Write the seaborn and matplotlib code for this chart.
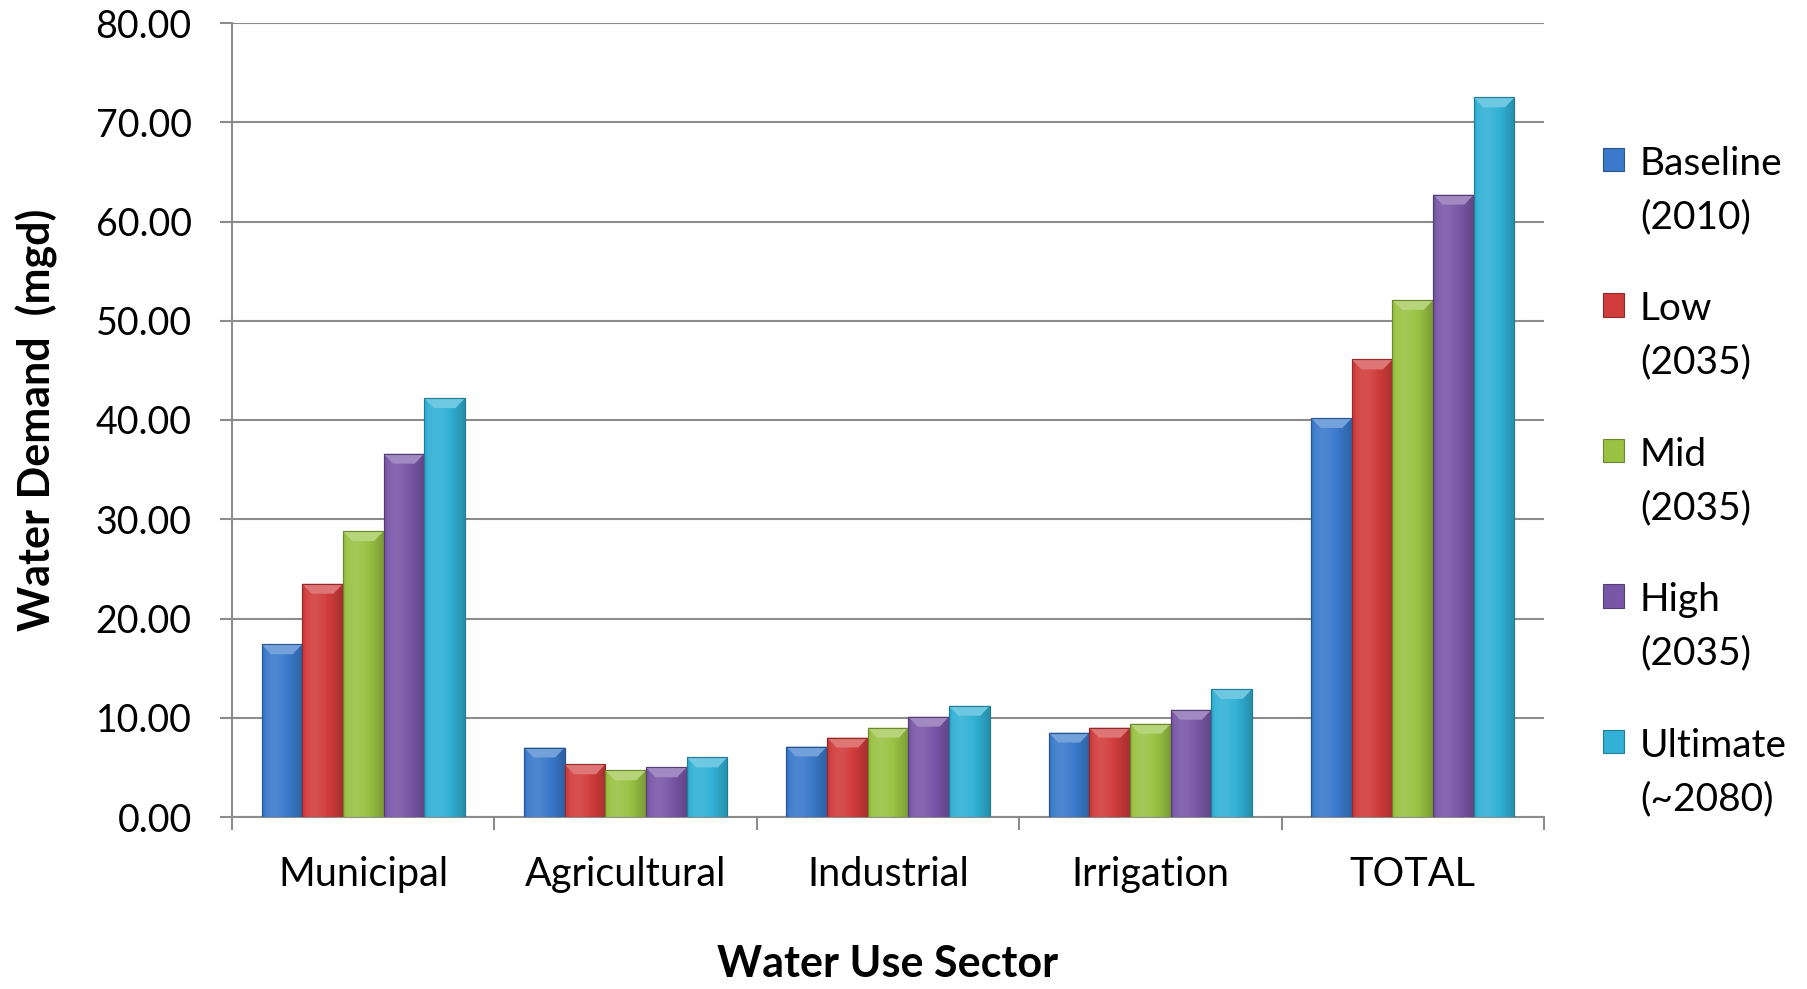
import numpy as np
import pandas as pd
import matplotlib
matplotlib.use("Agg")
import matplotlib.pyplot as plt
import seaborn as sns
from matplotlib.colors import to_rgb
from matplotlib.patches import Polygon, Rectangle
from matplotlib.legend_handler import HandlerPatch
from matplotlib.ticker import FormatStrFormatter, FixedLocator

# ---- data -------------------------------------------------------------
sectors = ["Municipal", "Agricultural", "Industrial", "Irrigation", "TOTAL"]
scenarios = ["Baseline\n(2010)", "Low\n(2035)", "Mid\n(2035)", "High\n(2035)", "Ultimate\n(~2080)"]
baseline_2010 = [17.4, 7.0, 7.1, 8.5, 40.2]
low_2035 = [23.5, 5.3, 8.0, 9.0, 46.1]
mid_2035 = [28.8, 4.7, 9.0, 9.4, 52.1]
high_2035 = [36.6, 5.0, 10.1, 10.8, 62.7]
ultimate_2080 = [42.2, 6.0, 11.2, 12.9, 72.5]
y_ticks = [0, 10, 20, 30, 40, 50, 60, 70, 80]
colors = ["#3A79CB", "#D13C3C", "#99C243", "#7957A7", "#31B1D5"]

series = [baseline_2010, low_2035, mid_2035, high_2035, ultimate_2080]
df = pd.DataFrame(
    [(sec, scen, val)
     for scen, vals in zip(scenarios, series)
     for sec, val in zip(sectors, vals)],
    columns=["sector", "scenario", "demand"],
)

# ---- style ------------------------------------------------------------
sns.set_theme(style="white")
plt.rcParams["font.family"] = ["Lato", "DejaVu Sans"]
GRID = "#8C8C8C"

fig = plt.figure(figsize=(18.07, 9.89), dpi=100)
fig.patch.set_facecolor("white")
W, H = 1807, 989
x0, x1, y0, y1 = 232, 1544, 23, 817
ax = fig.add_axes([x0 / W, 1 - y1 / H, (x1 - x0) / W, (y1 - y0) / H])

sns.barplot(data=df, x="sector", y="demand", hue="scenario",
            order=sectors, hue_order=scenarios, palette=colors,
            width=0.775, saturation=1, legend=False, ax=ax, zorder=3)


def lighten(c, a):
    c = np.array(to_rgb(c))
    return c + (1 - c) * a


def darken(c, a):
    return np.array(to_rgb(c)) * (1 - a)


# horizontal shading profile to give each bar a rounded, bevelled look
t = np.linspace(0, 1, 64)
prof = (0.10 * np.exp(-((t - 0.3) / 0.25) ** 2)
        - 0.20 * np.clip((t - 0.55) / 0.45, 0, 1) ** 1.4
        - 0.08 * np.exp(-(t / 0.06) ** 2))

bars = [p for p in ax.patches if p.get_height() > 0]
for p in bars:
    base = np.array(p.get_facecolor()[:3])
    bx, bw, bh = p.get_x(), p.get_width(), p.get_height()
    img = np.empty((2, len(t), 3))
    for i, f in enumerate(prof):
        img[:, i] = lighten(base, f) if f >= 0 else darken(base, -f)
    im = ax.imshow(img, extent=[bx, bx + bw, 0, bh], aspect="auto",
                   origin="lower", zorder=3.5, interpolation="bilinear")
    im.set_clip_path(p)
    p.set_edgecolor(darken(base, 0.25))
    p.set_linewidth(0.8)
    # top bevel facet
    dy = 1.0
    dx = 0.036
    top = Polygon([(bx, bh), (bx + bw, bh), (bx + bw - dx, bh - dy), (bx + dx, bh - dy)],
                  closed=True, facecolor=lighten(base, 0.30), edgecolor="none", zorder=3.6)
    ax.add_patch(top)
    ax.add_patch(Rectangle((bx, 0), bw, bh, facecolor="none",
                           edgecolor=darken(base, 0.3), lw=0.8, zorder=3.7))

# ---- axes -------------------------------------------------------------
ax.set_xlim(-0.5, len(sectors) - 0.5)
ax.set_ylim(0, 80)
ax.set_yticks(y_ticks)
ax.yaxis.set_major_formatter(FormatStrFormatter("%.2f"))
ax.grid(axis="y", color=GRID, lw=1.5, zorder=0)
ax.set_axisbelow(True)

for side in ("top", "right"):
    ax.spines[side].set_visible(False)
for side in ("left", "bottom"):
    ax.spines[side].set_color(GRID)
    ax.spines[side].set_linewidth(1.5)

ax.xaxis.set_minor_locator(FixedLocator(np.arange(-0.5, len(sectors), 1.0)))
ax.tick_params(axis="x", which="major", length=0, pad=28, labelsize=28.5, labelcolor="black")
ax.tick_params(axis="x", which="minor", length=9, width=1.5, color=GRID, direction="out", bottom=True)
ax.tick_params(axis="y", which="major", length=9, width=1.5, color=GRID, direction="out",
               pad=20, labelsize=27, labelcolor="black", left=True)

ax.set_xlabel("Water Use Sector", fontsize=31, fontweight="bold", color="black")
ax.set_ylabel("Water Demand  (mgd)", fontsize=31, fontweight="bold", color="black")
ax.xaxis.label.set_va("center")
ax.yaxis.label.set_va("center")
ax.xaxis.set_label_coords(0.5, (y1 - 964) / (y1 - y0))
ax.yaxis.set_label_coords((37 - x0) / (x1 - x0), 0.5)

# ---- legend -----------------------------------------------------------
class FirstLineSwatch(HandlerPatch):
    """Legend swatch placed beside the first line of a two-line label."""

    def __init__(self, shift, **kw):
        super().__init__(**kw)
        self.shift = shift

    def create_artists(self, legend, orig_handle, xdescent, ydescent,
                       width, height, fontsize, trans):
        fc = orig_handle.get_facecolor()
        r = Rectangle((-xdescent, -ydescent + self.shift), width, height,
                      facecolor=fc, edgecolor=darken(fc[:3], 0.3), lw=0.8,
                      transform=trans)
        return [r]


LEG_FS = 28
LEG_LS = 1.59
handles = [Rectangle((0, 0), 1, 1, facecolor=c) for c in colors]
leg = fig.legend(handles, scenarios, loc="upper left",
                 bbox_to_anchor=(1568 / W, 1 - 111 / H),
                 frameon=False, fontsize=LEG_FS, handlelength=0.55, handleheight=0.55,
                 handletextpad=0.4, labelspacing=1.45,
                 handler_map={Rectangle: FirstLineSwatch(23)})
for txt in leg.get_texts():
    txt.set_linespacing(LEG_LS)
    txt.set_color("black")

fig.savefig("out.png", dpi=100, facecolor="white")
